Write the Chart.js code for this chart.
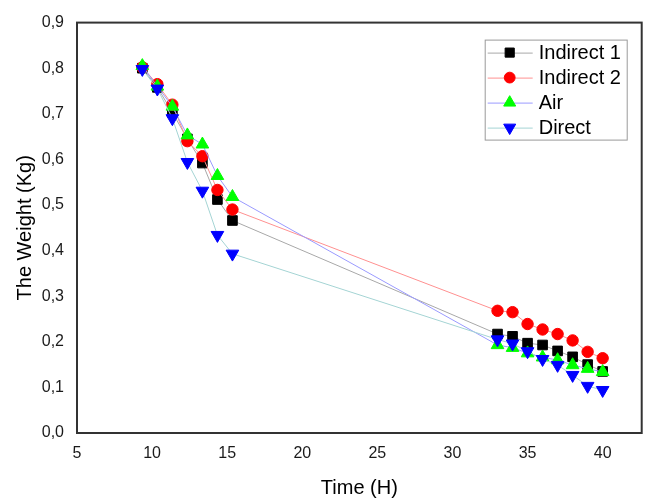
<!DOCTYPE html>
<html>
<head>
<meta charset="utf-8">
<script src="https://cdn.jsdelivr.net/npm/chart.js@4/dist/chart.umd.min.js"></script>
<style>
html,body{margin:0;padding:0;background:#fff;}
#wrap{width:650px;height:500px;}
</style>
</head>
<body>
<div id="wrap"><canvas id="c" width="650" height="500"></canvas></div>
<script>
const timeH = [9.35, 10.35, 11.35, 12.35, 13.35, 14.35, 15.35, 33, 34, 35, 36, 37, 38, 39, 40];
const indirect1 = [0.800, 0.758, 0.703, 0.645, 0.592, 0.512, 0.466, 0.217, 0.212, 0.197, 0.193, 0.180, 0.167, 0.150, 0.135];
const indirect2 = [0.802, 0.765, 0.720, 0.640, 0.607, 0.533, 0.490, 0.268, 0.265, 0.239, 0.227, 0.217, 0.203, 0.178, 0.164];
const air       = [0.805, 0.760, 0.716, 0.653, 0.633, 0.564, 0.518, 0.193, 0.187, 0.175, 0.166, 0.160, 0.149, 0.141, 0.134];
const direct    = [0.798, 0.755, 0.690, 0.594, 0.531, 0.434, 0.393, 0.205, 0.196, 0.179, 0.162, 0.149, 0.127, 0.103, 0.094];
const seriesNames = ['Indirect 1', 'Indirect 2', 'Air', 'Direct'];
const xTickValues = [5, 10, 15, 20, 25, 30, 35, 40];
const yTickLabels = ['0,0', '0,1', '0,2', '0,3', '0,4', '0,5', '0,6', '0,7', '0,8', '0,9'];
const xTitle = 'Time (H)';
const yTitle = 'The Weight (Kg)';

const FONT = "'Liberation Sans', Arial, sans-serif";

function pts(ys) { return ys.map((y, i) => ({x: timeH[i], y: y})); }

const styles = [
  {line: '#a8a8a8', mark: '#000000', shape: 'rect', r: 6.8, rot: 0},
  {line: '#ff9090', mark: '#ff0000', shape: 'circle', r: 5.7, rot: 0},
  {line: '#9a9aff', mark: '#00ff00', shape: 'triangle', r: 7.3, rot: 0},
  {line: '#a4d4d4', mark: '#0000ff', shape: 'triangle', r: 7.3, rot: 180}
];
const seriesData = [indirect1, indirect2, air, direct];

const datasets = seriesData.map((d, i) => ({
  label: seriesNames[i],
  data: pts(d),
  borderColor: styles[i].line,
  borderWidth: 1,
  backgroundColor: styles[i].mark,
  pointBackgroundColor: styles[i].mark,
  pointBorderColor: styles[i].mark,
  pointBorderWidth: 1,
  pointStyle: styles[i].shape,
  pointRadius: styles[i].r,
  pointRotation: styles[i].rot,
  showLine: true,
  tension: 0,
  order: 4 - i
}));

function drawMarker(ctx, st, x, y, scale) {
  const r = st.r * scale;
  ctx.save();
  ctx.fillStyle = st.mark;
  ctx.strokeStyle = st.mark;
  ctx.lineWidth = 1;
  ctx.beginPath();
  if (st.shape === 'rect') {
    const s = Math.SQRT1_2 * r;
    ctx.rect(x - s, y - s, 2 * s, 2 * s);
  } else if (st.shape === 'circle') {
    ctx.arc(x, y, r, 0, Math.PI * 2);
  } else {
    let rad = st.rot * Math.PI / 180;
    ctx.moveTo(x + Math.sin(rad) * r, y - Math.cos(rad) * r);
    rad += 2 * Math.PI / 3;
    ctx.lineTo(x + Math.sin(rad) * r, y - Math.cos(rad) * r);
    rad += 2 * Math.PI / 3;
    ctx.lineTo(x + Math.sin(rad) * r, y - Math.cos(rad) * r);
    ctx.closePath();
  }
  ctx.fill();
  ctx.stroke();
  ctx.restore();
}

const framePlugin = {
  id: 'frame',
  afterDatasetsDraw(chart) {
    const {ctx, chartArea: a} = chart;
    ctx.save();
    ctx.strokeStyle = '#333333';
    ctx.lineWidth = 2;
    ctx.strokeRect(a.left, a.top, a.right - a.left, a.bottom - a.top);
    ctx.restore();
  }
};

const legendPlugin = {
  id: 'customLegend',
  afterDraw(chart) {
    const {ctx, chartArea: a} = chart;
    const right = a.right - 15, left = right - 142;
    const top = a.top + 17, bottom = top + 100;
    ctx.save();
    ctx.fillStyle = '#ffffff';
    ctx.fillRect(left, top, right - left, bottom - top);
    ctx.strokeStyle = '#9a9a9a';
    ctx.lineWidth = 1;
    ctx.strokeRect(left + 0.5, top + 0.5, right - left, bottom - top);
    ctx.font = '20px ' + FONT;
    ctx.textBaseline = 'middle';
    ctx.textAlign = 'left';
    seriesNames.forEach((name, i) => {
      const y = top + 13 + i * 25;
      ctx.strokeStyle = styles[i].line;
      ctx.lineWidth = 1;
      ctx.beginPath();
      ctx.moveTo(left + 3, y + 0.5);
      ctx.lineTo(left + 48, y + 0.5);
      ctx.stroke();
      drawMarker(ctx, styles[i], left + 25, y, 0.95);
      ctx.fillStyle = '#000000';
      ctx.fillText(name, left + 54, y + 1);
    });
    ctx.restore();
  }
};

new Chart(document.getElementById('c'), {
  type: 'scatter',
  data: {datasets: datasets},
  options: {
    responsive: false,
    animation: false,
    layout: {padding: {top: 18, right: 8, left: 0, bottom: 0}},
    plugins: {legend: {display: false}, tooltip: {enabled: false}},
    scales: {
      x: {
        type: 'linear',
        min: 5,
        max: 42.6,
        grid: {display: false, drawTicks: false},
        border: {display: false},
        afterBuildTicks(scale) { scale.ticks = xTickValues.map(v => ({value: v})); },
        ticks: {
          font: {family: FONT, size: 16},
          color: '#1a1a1a',
          padding: 11,
          maxRotation: 0,
          callback: (v) => String(v)
        },
        title: {
          display: true,
          text: xTitle,
          font: {family: FONT, size: 20},
          color: '#000000',
          padding: {top: 0, bottom: 0}
        },
        afterFit(scale) { scale.height = 67; }
      },
      y: {
        type: 'linear',
        min: 0,
        max: 0.9,
        grid: {display: false, drawTicks: false},
        border: {display: false},
        afterBuildTicks(scale) { scale.ticks = yTickLabels.map((t, i) => ({value: i / 10})); },
        ticks: {
          font: {family: FONT, size: 16},
          color: '#1a1a1a',
          padding: 13,
          callback: (v, i) => yTickLabels[i]
        },
        title: {
          display: true,
          text: yTitle,
          font: {family: FONT, size: 20},
          color: '#000000',
          padding: {top: 13, bottom: 0}
        },
        afterFit(scale) { scale.width = 77; }
      }
    }
  },
  plugins: [framePlugin, legendPlugin]
});
</script>
</body>
</html>
